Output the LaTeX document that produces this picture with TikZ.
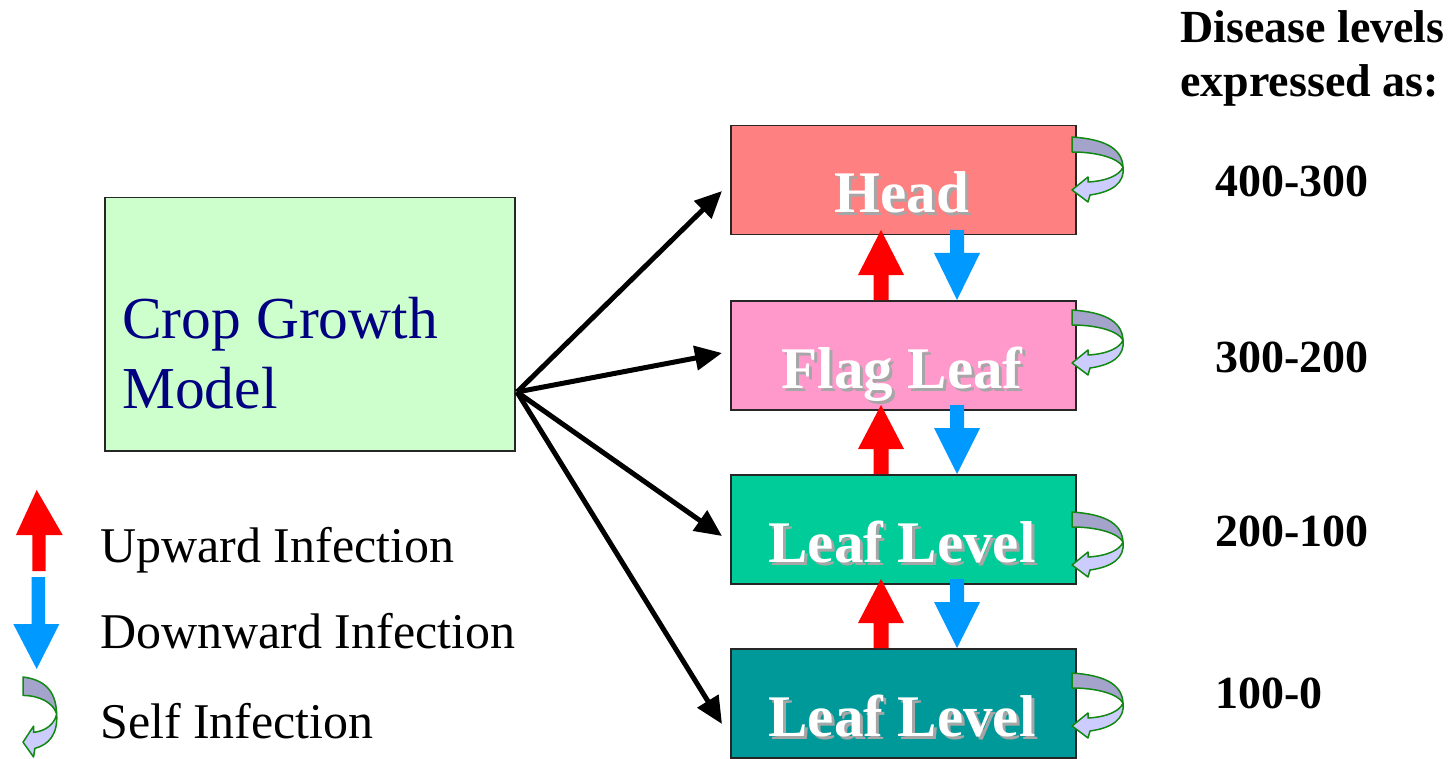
\documentclass[tikz,border=0pt]{standalone}
\usepackage{fontspec}
\setmainfont{Liberation Serif}
\usetikzlibrary{arrows.meta}
\definecolor{cgmfill}{HTML}{CCFFCC}
\definecolor{cgmtext}{HTML}{000080}
\definecolor{headc}{HTML}{FF8080}
\definecolor{flagc}{HTML}{FF99CC}
\definecolor{leafc}{HTML}{00CC99}
\definecolor{leafdc}{HTML}{009999}
\definecolor{upred}{HTML}{FF0000}
\definecolor{downblue}{HTML}{0099FF}
\definecolor{selfdark}{HTML}{A3A3CC}
\definecolor{selflight}{HTML}{CCCCFF}
\definecolor{selfline}{HTML}{118811}
\definecolor{shadowc}{HTML}{A6A6A6}
\newcommand\shadowed[1]{\rlap{\kern3pt\raisebox{-3pt}{\color{shadowc}#1}}#1}
\newcommand\myup[4]{\fill[upred] ({#1-7.5},#4) -- ({#1-7.5},#3) -- ({#1-23},#3) -- (#1,#2) -- ({#1+23},#3) -- ({#1+7.5},#3) -- ({#1+7.5},#4) -- cycle;}
\newcommand\mydown[4]{\fill[downblue] ({#1-7},#2) -- ({#1-7},#3) -- ({#1-23},#3) -- (#1,#4) -- ({#1+23},#3) -- ({#1+7},#3) -- ({#1+7},#2) -- cycle;}
\newcommand\myself[2][]{\begin{scope}[shift={#2},#1]
  \filldraw[fill=selfdark,draw=selfline,line width=1.5pt,line join=round] (0,0) .. controls (30,2) and (50,10) .. (51,30) .. controls (46,21) and (25,15) .. (0,15) -- cycle;
  \filldraw[fill=selflight,draw=selfline,line width=1.5pt,line join=round] (51,30) .. controls (53,46) and (40,55) .. (18,58) -- (16,65) -- (0,53) -- (16,40) -- (16,45) .. controls (35,44) and (48,38) .. (51,30) -- cycle;
\end{scope}}
\begin{document}
\begin{tikzpicture}[x=1pt,y=-1pt,
  lvlbox/.style={draw=black!85,line width=1.5pt,anchor=north west,inner sep=0pt,minimum width=345pt,minimum height=109pt},
  boxtxt/.style={anchor=base,inner sep=0pt,text=white,font=\bfseries\fontsize{59}{70}\selectfont},
  legtxt/.style={anchor=base west,inner sep=0pt,font=\fontsize{50}{58}\selectfont},
  lvltxt/.style={anchor=base west,inner sep=0pt,font=\bfseries\fontsize{46}{54}\selectfont},
  conn/.style={line width=5pt,-{Triangle[length=27pt,width=24pt]}}]
\useasboundingbox (0,0) rectangle (1450,759);
% crop growth model
\node[draw=black!85,line width=1.5pt,fill=cgmfill,anchor=north west,inner sep=0pt,minimum width=410pt,minimum height=253pt] (cgm) at (104,197) {};
\node[anchor=base west,inner sep=0pt,text=cgmtext,font=\fontsize{59.5}{70}\selectfont] (cgm1) at (122,338) {Crop Growth};
\node[anchor=base west,inner sep=0pt,text=cgmtext,font=\fontsize{59.5}{70}\selectfont] (cgm2) at (122,408) {Model};
% level boxes
\node[lvlbox,fill=headc] (head) at (730,125) {};
\node[lvlbox,fill=flagc] (flag) at (730,300) {};
\node[lvlbox,fill=leafc] (leaf) at (730,474) {};
\node[lvlbox,fill=leafdc] (leafb) at (730,648) {};
\node[boxtxt] (headt) at (902,213) {\shadowed{Head}};
\node[boxtxt] (flagt) at (902,388) {\shadowed{Flag Leaf}};
\node[boxtxt] (leaft) at (902,562) {\shadowed{Leaf Level}};
\node[boxtxt] (leafbt) at (902,736) {\shadowed{Leaf Level}};
% up / down arrows
\myup{881}{230}{275}{300}
\mydown{957}{230}{253}{300}
\myup{881}{405}{449}{474}
\mydown{957}{405}{428}{474}
\myup{881}{579}{623}{648}
\mydown{957}{579}{602}{648}
% self infection arrows
\myself{(1072,137)}
\myself{(1072,310)}
\myself{(1072,512)}
\myself{(1072,673)}
% connectors
\coordinate (hub) at (517,392);
\coordinate (t1) at (722,191);
\coordinate (t2) at (722,353);
\coordinate (t3) at (722,536);
\coordinate (t4) at (722,724);
\draw[conn] (hub) -- (t1);
\draw[conn] (hub) -- (t2);
\draw[conn] (hub) -- (t3);
\draw[conn] (hub) -- (t4);
% disease levels
\node[lvltxt] (dl1) at (1180,43) {Disease levels};
\node[lvltxt] (dl2) at (1180,97) {expressed as:};
\node[lvltxt] (l1) at (1215,197) {400-300};
\node[lvltxt] (l2) at (1215,372) {300-200};
\node[lvltxt] (l3) at (1215,546) {200-100};
\node[lvltxt] (l4) at (1215,708) {100-0};
% legend
\fill[upred] (32.3,571) -- (32.3,535) -- (16,535) -- (36.7,490) -- (62.7,535) -- (45.7,535) -- (45.7,571) -- cycle;
\fill[downblue] (31.7,577) -- (31.7,624) -- (13.3,624) -- (36.7,669) -- (59.3,624) -- (45,624) -- (45,577) -- cycle;
\myself[xscale=0.66,yscale=1.23]{(23,677)}
\node[legtxt] (lg1) at (100,562) {Upward Infection};
\node[legtxt] (lg2) at (100,648) {Downward Infection};
\node[legtxt] (lg3) at (100,738) {Self Infection};
\end{tikzpicture}
\end{document}
